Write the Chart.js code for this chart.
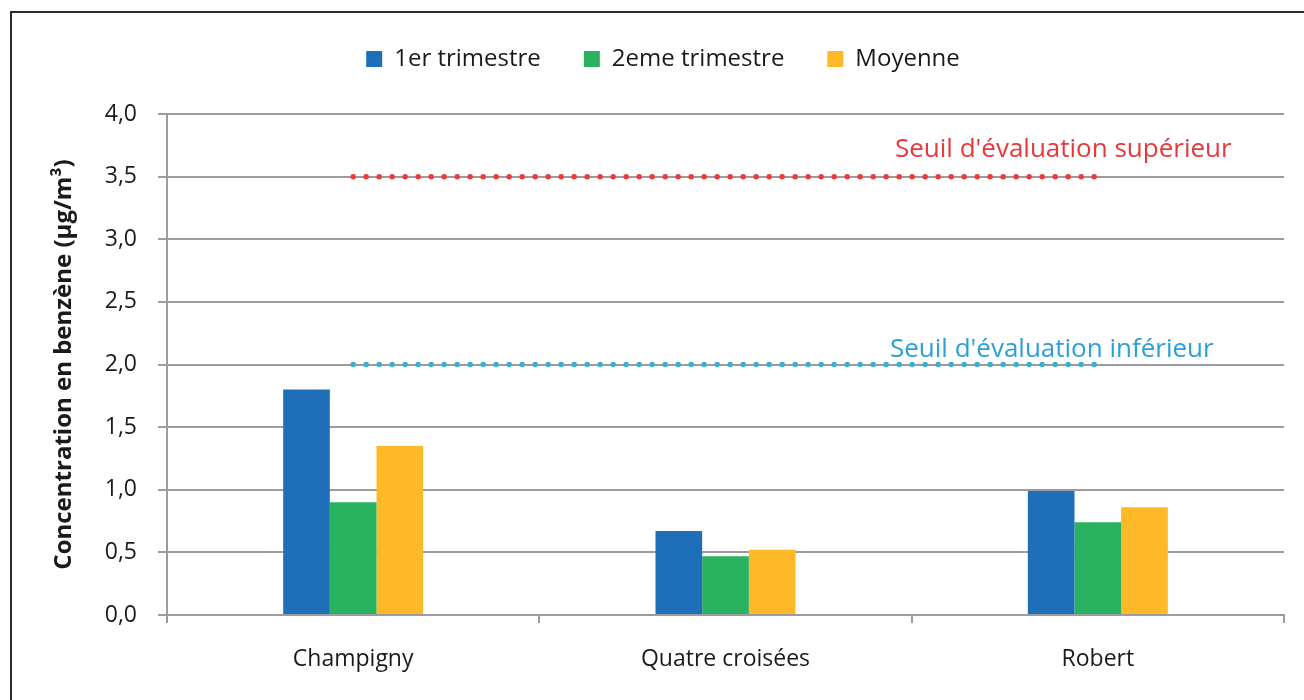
<!DOCTYPE html>
<html lang="fr">
<head>
  <meta charset="UTF-8" />
  <title>Benzène</title>
  <script src="https://cdn.jsdelivr.net/npm/chart.js@4.4.0/dist/chart.umd.min.js"></script>
  <style>
    body { margin: 0; background: #fff; }
    #wrap { position: relative; width: 1304px; height: 700px; }
  </style>
</head>
<body>
  <div id="wrap"><canvas id="benzene"></canvas></div>

  <script>
    // data
    const sites = ["Champigny", "Quatre croisées", "Robert"];
    const trim1 = [1.8, 0.67, 0.99];
    const trim2 = [0.9, 0.47, 0.74];
    const moyenne = [1.35, 0.52, 0.86];
    const seuilSup = [3.5, 3.5, 3.5];
    const seuilInf = [2.0, 2.0, 2.0];
    const seuilSupLabel = "Seuil d'évaluation supérieur";
    const seuilInfLabel = "Seuil d'évaluation inférieur";

    const FONT = "'Open Sans', sans-serif";
    const gridColor = "#9c9ca0";

    // frame round the chart + threshold captions + room under the legend
    const extras = {
      id: "extras",
      beforeInit(chart) {
        const fit = chart.legend.fit;
        chart.legend.fit = function () {
          fit.call(this);
          this.height += 33;
        };
      },
      afterLayout(chart) {
        // legend sits a bit right of centre in the original
        chart.legend.left += 11;
        chart.legend.right += 11;
      },
      beforeDraw(chart) {
        const ctx = chart.ctx;
        ctx.save();
        ctx.strokeStyle = "#2a2a2a";
        ctx.lineWidth = 2;
        ctx.beginPath();
        ctx.moveTo(11, 700);
        ctx.lineTo(11, 12);
        ctx.lineTo(1304, 12);
        ctx.stroke();
        ctx.restore();
      },
      afterDatasetsDraw(chart) {
        const ctx = chart.ctx;
        const y = chart.scales.y;
        const left = chart.chartArea.right - 391;
        ctx.save();
        ctx.font = "26px " + FONT;
        ctx.textBaseline = "middle";
        ctx.textAlign = "left";
        ctx.fillStyle = "#e8383b";
        ctx.fillText(seuilSupLabel, left + 2, y.getPixelForValue(seuilSup[0]) - 27);
        ctx.fillStyle = "#2a9fd8";
        ctx.fillText(seuilInfLabel, left - 3, y.getPixelForValue(seuilInf[0]) - 15);
        ctx.restore();
      }
    };

    function dotted(label, data, color) {
      return {
        type: "line",
        label: label,
        data: data,
        borderColor: color,
        borderWidth: 5.5,
        borderDash: [0, 13],
        borderCapStyle: "round",
        pointRadius: 0,
        fill: false,
      };
    }

    new Chart(document.getElementById("benzene"), {
      type: "bar",
      data: {
        labels: sites,
        datasets: [
          { label: "1er trimestre", data: trim1, backgroundColor: "#1e6fb8" },
          { label: "2eme trimestre", data: trim2, backgroundColor: "#29b260" },
          { label: "Moyenne", data: moyenne, backgroundColor: "#fdb927" },
          dotted(seuilSupLabel, seuilSup, "#ef3a3a"),
          dotted(seuilInfLabel, seuilInf, "#3aafd0"),
        ],
      },
      options: {
        responsive: true,
        maintainAspectRatio: false,
        animation: false,
        layout: { padding: { left: 20, right: 20, top: 4, bottom: 0 } },
        datasets: { bar: { barPercentage: 1, categoryPercentage: 0.376, borderWidth: 0 } },
        plugins: {
          tooltip: { enabled: false },
          legend: {
            position: "top",
            labels: {
              filter: (item) => item.datasetIndex < 3,
              boxWidth: 16,
              boxHeight: 16,
              padding: 43,
              color: "#1a1a1a",
              font: { family: FONT, size: 24 },
            },
          },
        },
        scales: {
          x: {
            afterFit: (s) => { s.height = 85; },
            grid: { offset: true, drawOnChartArea: false, color: gridColor, lineWidth: 2, tickLength: 8 },
            border: { color: gridColor, width: 2 },
            ticks: { color: "#1a1a1a", padding: 23, font: { family: FONT, size: 23 } },
          },
          y: {
            min: 0,
            max: 4,
            afterFit: (s) => { s.width = 147; },
            ticks: {
              stepSize: 0.5,
              padding: 21,
              color: "#1a1a1a",
              font: { family: FONT, size: 23 },
              callback: (v) => v.toFixed(1).replace(".", ","),
            },
            grid: { color: gridColor, lineWidth: 2, tickLength: 9 },
            border: { color: gridColor, width: 2 },
            title: {
              display: true,
              text: "Concentration en benzène (µg/m³)",
              color: "#1a1a1a",
              padding: { top: 30, bottom: 0 },
              font: { family: FONT, size: 24, weight: "bold" },
            },
          },
        },
      },
      plugins: [extras],
    });
  </script>
</body>
</html>
